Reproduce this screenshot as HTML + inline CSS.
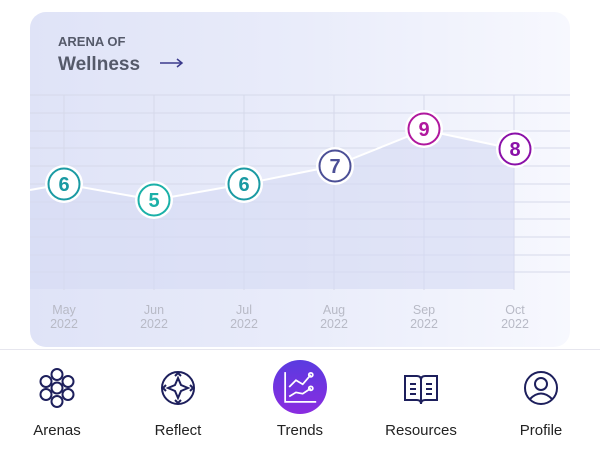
<!DOCTYPE html>
<html><head><style>
body{margin:0;width:600px;height:451px;background:#fff;font-family:"Liberation Sans",sans-serif;overflow:hidden;position:relative}
.card{position:absolute;left:30px;top:12px;width:540px;height:335px;border-radius:16px;background:linear-gradient(90deg,#dfe3f7 0%,#e9ecfa 50%,#f7f8fe 100%);overflow:hidden}
.nav{position:absolute;top:349px;left:0;width:600px;height:102px;border-top:1px solid #e6e6ee;background:#fff}
.item{position:absolute;top:0;width:120px;margin-left:-60px;text-align:center}
.item svg{position:absolute;left:40px;top:18px}
.item span{position:absolute;top:72px;left:0;width:120px;font-size:15px;color:#222}
</style></head><body>
<div class="card"></div>
<svg width="600" height="451" style="position:absolute;left:0;top:0">
<text x="58" y="46" font-size="13" font-weight="bold" fill="#555a6a" font-family="Liberation Sans">ARENA OF</text>
<text x="58" y="70" font-size="19" font-weight="bold" fill="#555a6a" font-family="Liberation Sans">Wellness</text>
<line x1="160" y1="63" x2="182" y2="63" stroke="#3b3a8c" stroke-width="1.5"/>
<path d="M177,59 L182,63 L177,67" fill="none" stroke="#3b3a8c" stroke-width="1.5"/>
<g stroke="#d6d9ea" stroke-width="1">
<line x1="30" y1="95" x2="570" y2="95"/><line x1="30" y1="113" x2="570" y2="113"/><line x1="30" y1="131" x2="570" y2="131"/><line x1="30" y1="148" x2="570" y2="148"/><line x1="30" y1="166" x2="570" y2="166"/><line x1="30" y1="184" x2="570" y2="184"/><line x1="30" y1="202" x2="570" y2="202"/><line x1="30" y1="219" x2="570" y2="219"/><line x1="30" y1="237" x2="570" y2="237"/><line x1="30" y1="255" x2="570" y2="255"/><line x1="30" y1="272" x2="570" y2="272"/>
<line x1="64" y1="95" x2="64" y2="290"/><line x1="154" y1="95" x2="154" y2="290"/><line x1="244" y1="95" x2="244" y2="290"/><line x1="334" y1="95" x2="334" y2="290"/><line x1="424" y1="95" x2="424" y2="290"/><line x1="514" y1="95" x2="514" y2="290"/>
</g>
<path d="M30,190 L64,184 L154,200 L244,184 L334,166 L424,130 L514,149 L514,289 L30,289Z" fill="#d5daf4" opacity="0.6"/>
<polyline points="30,190 64,184 154,200 244,184 334,166 424,130 514,149" fill="none" stroke="#fff" stroke-width="2"/>
<g font-family="Liberation Sans" font-size="20" font-weight="bold" text-anchor="middle">
<circle cx="64" cy="184" r="19" fill="#fff"/><circle cx="64" cy="184" r="15.5" fill="#fff" stroke="#1a9aa3" stroke-width="2"/><text x="64" y="191" fill="#1a9aa3">6</text>
<circle cx="154" cy="200" r="19" fill="#fff"/><circle cx="154" cy="200" r="15.5" fill="#fff" stroke="#1ab0a8" stroke-width="2"/><text x="154" y="207" fill="#1ab0a8">5</text>
<circle cx="244" cy="184" r="19" fill="#fff"/><circle cx="244" cy="184" r="15.5" fill="#fff" stroke="#1a9aa3" stroke-width="2"/><text x="244" y="191" fill="#1a9aa3">6</text>
<circle cx="335" cy="166" r="19" fill="#fff"/><circle cx="335" cy="166" r="15.5" fill="#fff" stroke="#4b4f96" stroke-width="2"/><text x="335" y="173" fill="#4b4f96">7</text>
<circle cx="424" cy="129" r="19" fill="#fff"/><circle cx="424" cy="129" r="15.5" fill="#fff" stroke="#b0189e" stroke-width="2"/><text x="424" y="136" fill="#b0189e">9</text>
<circle cx="515" cy="149" r="19" fill="#fff"/><circle cx="515" cy="149" r="15.5" fill="#fff" stroke="#8a10a8" stroke-width="2"/><text x="515" y="156" fill="#8a10a8">8</text>
</g>
<g font-family="Liberation Sans" font-size="12.5" fill="#b8bac6" text-anchor="middle">
<text x="64" y="314">May</text><text x="64" y="328">2022</text>
<text x="154" y="314">Jun</text><text x="154" y="328">2022</text>
<text x="244" y="314">Jul</text><text x="244" y="328">2022</text>
<text x="334" y="314">Aug</text><text x="334" y="328">2022</text>
<text x="424" y="314">Sep</text><text x="424" y="328">2022</text>
<text x="515" y="314">Oct</text><text x="515" y="328">2022</text>
</g>
</svg>
<div class="nav">
<div class="item" style="left:57px"><svg width="40" height="40" viewBox="0 0 40 40" fill="none" stroke="#1d1f5c" stroke-width="2"><circle cx="20" cy="6.5" r="5.5"/><circle cx="20" cy="20" r="5.5"/><circle cx="20" cy="33.5" r="5.5"/><circle cx="9" cy="13.5" r="5.5"/><circle cx="31" cy="13.5" r="5.5"/><circle cx="9" cy="26.5" r="5.5"/><circle cx="31" cy="26.5" r="5.5"/></svg><span>Arenas</span></div>
<div class="item" style="left:178px"><svg width="40" height="40" viewBox="0 0 40 40" fill="none" stroke="#1d1f5c" stroke-width="2"><circle cx="20" cy="20" r="16"/><path d="M20,10 L23,17 L30,20 L23,23 L20,30 L17,23 L10,20 L17,17Z"/><path d="M17,8 L20,5 L23,8 M17,32 L20,35 L23,32 M8,17 L5,20 L8,23 M32,17 L35,20 L32,23"/></svg><span>Reflect</span></div>
<div class="item" style="left:300px"><svg width="40" height="40" viewBox="0 0 40 40" style="left:33px;top:10px;width:54px;height:54px"><defs><linearGradient id="g" x1="0" y1="0" x2="0" y2="1"><stop offset="0" stop-color="#5a3be0"/><stop offset="1" stop-color="#8a2ce0"/></linearGradient></defs><circle cx="20" cy="20" r="20" fill="url(#g)"/><g fill="none" stroke="#fff" stroke-width="1.3"><path d="M9,9 V31 H32"/><polyline points="12,20 17,15 22,18 28,11"/><polyline points="12,27 17,24 22,25 28,21"/><circle cx="28" cy="11" r="1.5"/><circle cx="28" cy="21" r="1.5"/></g></svg><span>Trends</span></div>
<div class="item" style="left:421px"><svg width="40" height="40" viewBox="0 0 40 40" fill="none" stroke="#1d1f5c" stroke-width="2"><path d="M4,8 H16 Q20,8 20,12 Q20,8 24,8 H36 V32 H24 Q20,32 20,36 Q20,32 16,32 H4Z"/><path d="M20,12 V36 M9,16 H15 M9,21 H15 M9,26 H15 M25,16 H31 M25,21 H31 M25,26 H31"/></svg><span>Resources</span></div>
<div class="item" style="left:541px"><svg width="40" height="40" viewBox="0 0 40 40" fill="none" stroke="#1d1f5c" stroke-width="2"><circle cx="20" cy="20" r="16"/><circle cx="20" cy="16" r="6"/><path d="M9,31 Q20,20 31,31"/></svg><span>Profile</span></div>
</div>
</body></html>
